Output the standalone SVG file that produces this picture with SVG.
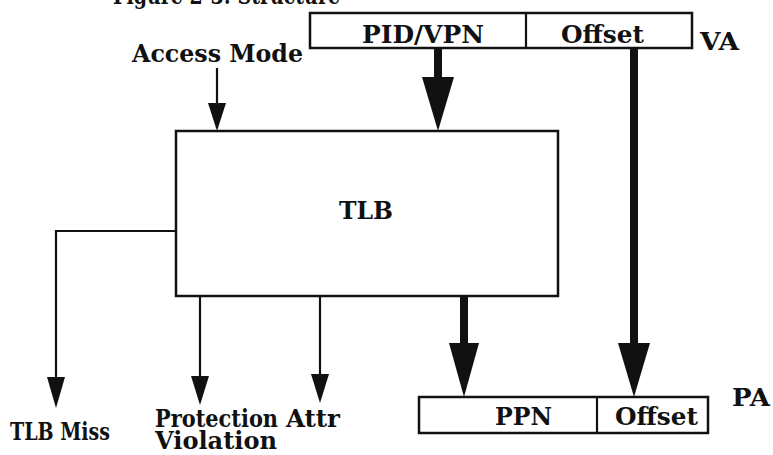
<svg xmlns="http://www.w3.org/2000/svg" width="773" height="455" viewBox="0 0 773 455">
  <style>
    .lbl { font-family: "DejaVu Serif", "Liberation Serif", serif; font-weight: bold; font-size: 24px; fill: #111; }
    .box { fill: #fff; stroke: #111; stroke-width: 2.5; }
    .thin { fill: none; stroke: #111; stroke-width: 2.2; }
    .thick { fill: none; stroke: #111; stroke-width: 8; }
    .head { fill: #111; }
  </style>
  <rect width="773" height="455" fill="#fff"/>

  <!-- caption, clipped at the top edge -->
  <text class="lbl" x="113" y="4" textLength="227" lengthAdjust="spacingAndGlyphs">Figure 2-3: Structure</text>

  <!-- virtual address register -->
  <g id="va">
    <rect class="box" x="310" y="13" width="382" height="35"/>
    <line class="thin" x1="526" y1="13" x2="526" y2="48"/>
    <text class="lbl" x="362" y="43" textLength="122" lengthAdjust="spacingAndGlyphs">PID/VPN</text>
    <text class="lbl" x="561" y="43" textLength="83" lengthAdjust="spacingAndGlyphs">Offset</text>
    <text class="lbl" x="700" y="50" textLength="39" lengthAdjust="spacingAndGlyphs">VA</text>
  </g>

  <!-- access mode input -->
  <g id="access-mode">
    <text class="lbl" x="132" y="62" textLength="171" lengthAdjust="spacingAndGlyphs">Access Mode</text>
  </g>

  <!-- translation lookaside buffer -->
  <g id="tlb">
    <rect class="box" x="176" y="131" width="382" height="165"/>
    <text class="lbl" x="339" y="219" textLength="54" lengthAdjust="spacingAndGlyphs">TLB</text>
  </g>

  <!-- physical address register -->
  <g id="pa">
    <rect class="box" x="419" y="397" width="289" height="36"/>
    <line class="thin" x1="597" y1="397" x2="597" y2="433"/>
    <text class="lbl" x="495" y="425" textLength="57" lengthAdjust="spacingAndGlyphs">PPN</text>
    <text class="lbl" x="615" y="425" textLength="83" lengthAdjust="spacingAndGlyphs">Offset</text>
    <text class="lbl" x="732" y="406" textLength="38" lengthAdjust="spacingAndGlyphs">PA</text>
  </g>

  <!-- output labels -->
  <g id="tlb-miss">
    <text class="lbl" x="10" y="440" textLength="100" lengthAdjust="spacingAndGlyphs">TLB Miss</text>
  </g>
  <g id="protection-violation">
    <text class="lbl" x="155" y="427" textLength="123" lengthAdjust="spacingAndGlyphs">Protection</text>
    <text class="lbl" x="155" y="449" textLength="122" lengthAdjust="spacingAndGlyphs">Violation</text>
  </g>
  <g id="attr">
    <text class="lbl" x="286" y="427" textLength="54" lengthAdjust="spacingAndGlyphs">Attr</text>
  </g>

  <g id="connectors">
    <!-- access mode into TLB -->
    <line class="thin" x1="217" y1="68" x2="217" y2="104"/>
    <polygon class="head" points="208,103 226,103 217,131"/>

    <!-- PID/VPN into TLB -->
    <line class="thick" x1="438" y1="48" x2="438" y2="80"/>
    <polygon class="head" points="422,77 454,77 438,131"/>

    <!-- offset passes straight through -->
    <line class="thick" x1="634" y1="48" x2="634" y2="346"/>
    <polygon class="head" points="618,343 650,343 634,397"/>

    <!-- TLB to PPN -->
    <line class="thick" x1="464" y1="296" x2="464" y2="346"/>
    <polygon class="head" points="449,343 479,343 464,397"/>

    <!-- TLB miss -->
    <polyline class="thin" points="176,231 56,231 56,378"/>
    <polygon class="head" points="47,377 65,377 56,408"/>

    <!-- protection violation -->
    <line class="thin" x1="200" y1="296" x2="200" y2="378"/>
    <polygon class="head" points="191,376 209,376 200,405"/>

    <!-- attr -->
    <line class="thin" x1="320" y1="296" x2="320" y2="376"/>
    <polygon class="head" points="311,374 329,374 320,403"/>
  </g>
</svg>
